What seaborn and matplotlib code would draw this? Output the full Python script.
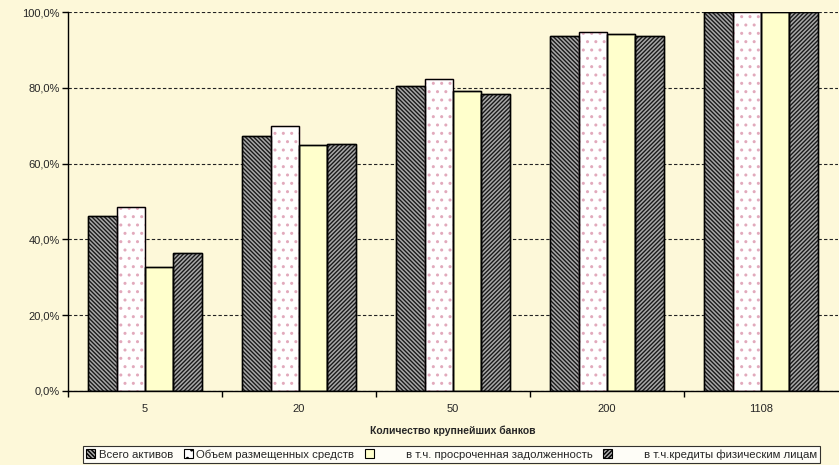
import numpy as np
import pandas as pd
import matplotlib
matplotlib.use('Agg')
import matplotlib.pyplot as plt
import seaborn as sns
from matplotlib.patches import Rectangle
from matplotlib.ticker import FuncFormatter, FixedLocator

banks = ['5', '20', '50', '200', '1108']
series = ['Всего активов', 'Объем размещенных средств',
          'в т.ч. просроченная задолженность', 'в т.ч.кредиты физическим лицам']
assets = [46.2, 67.3, 80.6, 93.7, 100.0]
placed = [48.6, 70.0, 82.2, 94.7, 100.0]
overdue = [32.7, 65.0, 79.2, 94.2, 100.0]
retail = [36.4, 65.2, 78.3, 93.7, 100.0]

df = pd.DataFrame({
    'banks': banks * 4,
    'series': np.repeat(series, 5),
    'value': assets + placed + overdue + retail,
})

sns.set_style('white')
plt.rcParams['font.family'] = ['Liberation Sans', 'DejaVu Sans']
plt.rcParams['hatch.linewidth'] = 1.0

bg = '#fdf8d9'
fig = plt.figure(figsize=(8.39, 4.65), dpi=100, facecolor=bg)
ax = fig.add_axes([68 / 839, 1 - 391 / 465, 770 / 839, 379 / 465])
ax.set_facecolor(bg)

sns.barplot(data=df, x='banks', y='value', hue='series', order=banks,
            hue_order=series, width=0.74, gap=0, ax=ax, legend=False,
            saturation=1, edgecolor='black', linewidth=1.0)

styles = [
    dict(fc='#a8a8a8', hatch='\\\\\\\\\\\\\\\\', ec='#1a1a1a'),
    dict(fc='white', hatch='..', ec='#e2a9bc'),
    dict(fc='#ffffcc', hatch=None, ec='black'),
    dict(fc='#a8a8a8', hatch='////////', ec='#1a1a1a'),
]
for cont, st in zip(ax.containers, styles):
    for p in cont.patches:
        p.set_facecolor(st['fc'])
        p.set_edgecolor(st['ec'])
        if st['hatch']:
            p.set_hatch(st['hatch'])
        # black outline on top
        ax.add_patch(Rectangle((p.get_x(), p.get_y()), p.get_width(), p.get_height(),
                               fill=False, edgecolor='black', linewidth=1.0, zorder=3))

ax.set_ylim(0, 100)
ax.set_xlim(-0.5, 4.5)
ax.yaxis.set_major_locator(FixedLocator([0, 20, 40, 60, 80, 100]))
ax.yaxis.set_major_formatter(FuncFormatter(lambda v, _: f'{v:.1f}%'.replace('.', ',')))
ax.grid(axis='y', color='#222222', linestyle=(0, (3, 2)), linewidth=0.8)
ax.set_axisbelow(True)

for s in ['top', 'right']:
    ax.spines[s].set_visible(False)
for s in ['left', 'bottom']:
    ax.spines[s].set_color('black')
    ax.spines[s].set_linewidth(1.0)

ax.tick_params(axis='y', which='major', left=True, length=4, width=1, color='black',
               labelsize=8, pad=2)
ax.tick_params(axis='x', which='major', bottom=False, labelsize=8, pad=6)
ax.set_xticks([-0.5, 0.5, 1.5, 2.5, 3.5], minor=True)
ax.tick_params(axis='x', which='minor', bottom=True, length=4, width=1, color='black')

ax.set_xlabel('Количество крупнейших банков', fontsize=7.5, fontweight='bold', labelpad=8)
ax.set_ylabel('')

handles = []
for st in styles:
    h = Rectangle((0, 0), 1, 1, facecolor=st['fc'], edgecolor='black',
                  hatch=st['hatch'], linewidth=0.8)
    handles.append(h)
# Excel-style legend: the last two labels sit far from their keys
leg_labels = [series[0], series[1], ' ' * 9 + series[2], ' ' * 9 + series[3]]
leg = fig.legend(handles, leg_labels, loc='lower left', bbox_to_anchor=(80 / 839, -1 / 465),
                 ncol=4, fontsize=8.2, frameon=True, fancybox=False,
                 handlelength=0.8, handleheight=0.8, handletextpad=0.3,
                 columnspacing=0.95, borderpad=0.25, borderaxespad=0.3)
leg.get_frame().set_edgecolor('black')
leg.get_frame().set_facecolor('white')
leg.get_frame().set_linewidth(0.8)

fig.savefig('out.png', dpi=100, facecolor=bg)
